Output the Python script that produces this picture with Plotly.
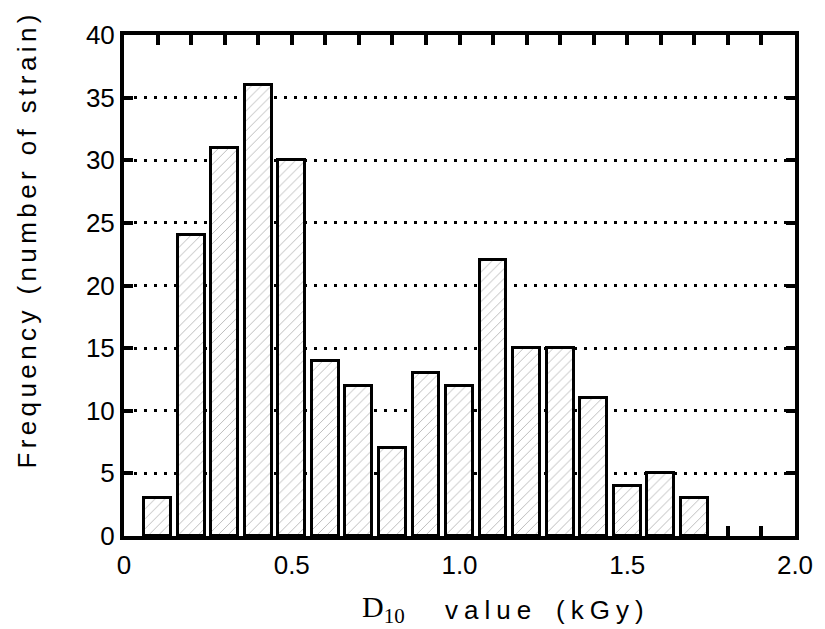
import plotly.graph_objects as go

d10_values = [0.1, 0.2, 0.3, 0.4, 0.5, 0.6, 0.7, 0.8, 0.9, 1.0, 1.1, 1.2, 1.3, 1.4, 1.5, 1.6, 1.7]
frequency = [3, 24, 31, 36, 30, 14, 12, 7, 13, 12, 22, 15, 15, 11, 4, 5, 3]
x_tick_vals = [0, 0.5, 1.0, 1.5, 2.0]
x_tick_text = ["0", "0.5", "1.0", "1.5", "2.0"]
y_tick_vals = [0, 5, 10, 15, 20, 25, 30, 35, 40]
y_title = "Frequency (number of strain)"
x_title_words = ["value", "(kGy)"]

FONT = "Liberation Sans, Arial, Helvetica, sans-serif"
SERIF = "Liberation Serif, DejaVu Serif, serif"

fig = go.Figure()
fig.add_trace(go.Bar(
    x=d10_values, y=frequency, width=0.08,
    marker=dict(color="white", line=dict(color="black", width=3),
                pattern=dict(shape="/", fgcolor="#555", bgcolor="white", size=7,
                             solidity=0.1, fgopacity=0.55)),
    showlegend=False,
))

fig.update_layout(
    width=817, height=621,
    margin=dict(l=116, r=23, t=27, b=93),
    paper_bgcolor="white", plot_bgcolor="white",
    font=dict(family=FONT, color="black", size=26),
    xaxis=dict(range=[0, 2.0], tickvals=x_tick_vals, ticktext=x_tick_text,
               ticks="inside", ticklen=10, tickwidth=4, tickcolor="black",
               minor=dict(dtick=0.1, tick0=0, ticks="inside", ticklen=10, tickwidth=4,
                          tickcolor="black", showgrid=False),
               showline=True, linecolor="black", linewidth=4, mirror="ticks",
               showgrid=False, zeroline=False, layer="below traces",
               ticklabelstandoff=3,
               tickfont=dict(size=26, family=FONT)),
    yaxis=dict(range=[0, 40], tickvals=y_tick_vals,
               ticks="inside", ticklen=9, tickwidth=4, tickcolor="black",
               showline=True, linecolor="black", linewidth=4, mirror="ticks",
               showgrid=True, gridcolor="black", gridwidth=2.5, griddash="3px,7px",
               zeroline=False, layer="below traces", ticklabelstandoff=0,
               tickfont=dict(size=26, family=FONT)),
    bargap=0,
)

# x-axis title pieces
fig.add_annotation(
    text="D<sub>10</sub>",
    xref="paper", yref="paper", x=0.387, y=-0.145, xanchor="center", yanchor="middle",
    showarrow=False, font=dict(size=30, family=SERIF),
)
for word, xc in zip(x_title_words, [0.5465, 0.714]):
    fig.add_annotation(
        text="<span style='letter-spacing:6px'>" + word + "</span>",
        xref="paper", yref="paper", x=xc, y=-0.148,
        xanchor="center", yanchor="middle", showarrow=False,
        font=dict(size=26, family=FONT),
    )

# y-axis title
fig.add_annotation(
    text="<span style='letter-spacing:4.4px'>" + y_title + "</span>",
    xref="paper", yref="paper", x=-0.145, y=0.591,
    xanchor="center", yanchor="middle", textangle=-90, showarrow=False,
    font=dict(size=26, family=FONT),
)

fig.write_html("out.html")
